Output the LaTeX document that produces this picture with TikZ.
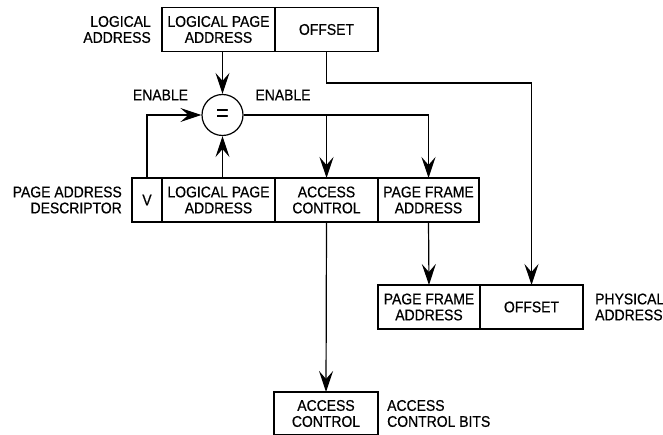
\documentclass[tikz,border=0pt]{standalone}
\usepackage{fontspec}
\setmainfont{Liberation Sans}[FakeStretch=0.9, FakeBold=0.6]
\usetikzlibrary{arrows.meta}

\begin{document}
\begin{tikzpicture}[x=1pt, y=-1pt,
  field/.style={draw, line width=1.2pt, minimum height=44pt, inner sep=0pt, outer sep=0pt, align=center, font=\fontsize{15.5}{16}\selectfont},
  lbl/.style={inner sep=0pt, font=\fontsize{15.5}{16}\selectfont},
  conn/.style={line width=1.2pt, -{Stealth[length=21pt, width=14pt, inset=8pt]}},
  wire/.style={line width=1.2pt}]
\useasboundingbox (0,0) rectangle (663,435);
\node[field, minimum width=113pt] (lpa) at (218.5,29.5) {LOGICAL PAGE\\ADDRESS};
\node[field, minimum width=103pt] (off) at (326.5,29.5) {OFFSET};
\node[lbl, anchor=east, align=right] (laddr) at (151,29.5) {LOGICAL\\ADDRESS};
\node[draw, circle, line width=1.2pt, minimum size=41pt, inner sep=0pt, font=\fontsize{24}{24}\selectfont] (eq) at (222.5,115) {=};
\node[lbl] (enl) at (160.5,95) {ENABLE};
\node[lbl] (enr) at (283,95) {ENABLE};
\node[field, minimum width=30pt] (v) at (147,200) {V};
\node[field, minimum width=113pt] (dlpa) at (218.5,200) {LOGICAL PAGE\\ADDRESS};
\node[field, minimum width=103pt] (dac) at (326.5,200) {ACCESS\\CONTROL};
\node[field, minimum width=101pt] (dpfa) at (428.5,200) {PAGE FRAME\\ADDRESS};
\node[lbl, anchor=east, align=right] (desc) at (122,200) {PAGE ADDRESS\\DESCRIPTOR};
\node[field, minimum width=102pt] (ppfa) at (429,307) {PAGE FRAME\\ADDRESS};
\node[field, minimum width=103pt] (poff) at (531.5,307) {OFFSET};
\node[lbl, anchor=west, align=left] (paddr) at (595,307) {PHYSICAL\\ADDRESS};
\node[field, minimum width=104pt, minimum height=43pt] (bac) at (326,413.5) {ACCESS\\CONTROL};
\node[lbl, anchor=west, align=left] (bits) at (387,413.5) {ACCESS\\CONTROL BITS};
\coordinate (obend) at (0,83);
\draw[conn] (eq.north |- lpa.south) -- (eq.north);
\draw[conn] (off.south) |- (obend -| poff.north) -- (poff.north);
\draw[conn] (v.north) |- (eq.west);
\draw[conn] (eq.south |- dlpa.north) -- (eq.south);
\draw[wire] (eq.east) -- (dpfa.north |- eq.east);
\draw[conn] (dpfa.north |- eq.east) -- (dpfa.north);
\draw[conn] (dac.north |- eq.east) -- (dac.north);
\draw[conn] (dpfa.south) -- (ppfa.north);
\draw[conn] (dac.south) -- (bac.north);
\end{tikzpicture}
\end{document}
